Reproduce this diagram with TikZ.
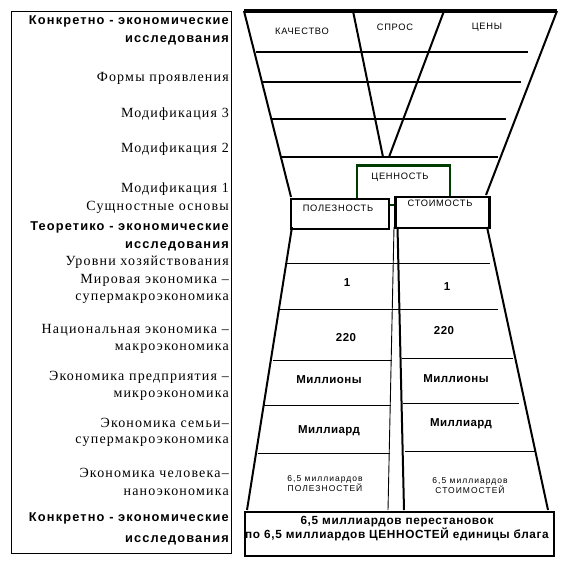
\documentclass[tikz,border=0pt]{standalone}
\usepackage{fontspec}
\setmainfont{Liberation Serif}
\newfontfamily\lserif[LetterSpace=8.5]{Liberation Serif}
\newfontfamily\lsans[LetterSpace=8]{Liberation Sans}
\newfontfamily\lsansbold[LetterSpace=9]{Liberation Sans}
\newfontfamily\lsanswide[LetterSpace=12]{Liberation Sans}
\newfontfamily\lsanstight[LetterSpace=4]{Liberation Sans}
\newfontfamily\lsansbot[LetterSpace=5.5]{Liberation Sans}
\definecolor{dkgreen}{RGB}{0,60,0}
\begin{document}
\begin{tikzpicture}[x=1pt,y=-1pt,
  lt/.style={anchor=base east, inner sep=0, font=\lserif\fontsize{14}{15}\selectfont},
  lb/.style={anchor=base east, inner sep=0, font=\lsansbold\bfseries\fontsize{12.8}{13}\selectfont},
  small/.style={inner sep=0, font=\lsans\fontsize{9.3}{10}\selectfont},
  tiny/.style={inner sep=0, align=center, font=\lsanswide\fontsize{8.5}{10}\selectfont},
  num/.style={inner sep=0, font=\lsanstight\bfseries\fontsize{11.5}{12}\selectfont},
  bigbox/.style={draw, line width=2.6pt, fill=white, inner sep=0, anchor=north west},
  edge/.style={line width=2pt},
  hline/.style={line width=1.7pt},
  thin/.style={line width=0.9pt}]
\useasboundingbox (0,0) rectangle (571,572);
\fill[white] (0,0) rectangle (571,572);

% left frame
\node[draw, line width=1pt, inner sep=0, minimum width=220pt, minimum height=542pt, anchor=north west] (frame) at (11,11) {};

% left labels
\node[lb] (k1a) at (229,25) {Конкретно - экономические};
\node[lb] (k1b) at (229,43) {исследования};
\node[lt] (fp) at (229,82) {Формы проявления};
\node[lt] (m3) at (229,118) {Модификация 3};
\node[lt] (m2) at (229,153) {Модификация 2};
\node[lt] (m1) at (229,192) {Модификация 1};
\node[lt] (so) at (229,210) {Сущностные основы};
\node[lb] (t1a) at (229,230) {Теоретико - экономические};
\node[lb] (t1b) at (229,248) {исследования};
\node[lt] (ur) at (229,265) {Уровни хозяйствования};
\node[lt] (mir1) at (229,283) {Мировая экономика –};
\node[lt] (mir2) at (229,300) {супермакроэкономика};
\node[lt] (nat1) at (229,333) {Национальная экономика –};
\node[lt] (nat2) at (229,350) {макроэкономика};
\node[lt] (pr1) at (229,380) {Экономика предприятия –};
\node[lt] (pr2) at (229,397) {микроэкономика};
\node[lt] (se1) at (229,427) {Экономика семьи–};
\node[lt] (se2) at (229,443) {супермакроэкономика};
\node[lt] (ch1) at (229,477) {Экономика человека–};
\node[lt] (ch2) at (229,495) {наноэкономика};
\node[lb] (k2a) at (229,521) {Конкретно - экономические};
\node[lb] (k2b) at (229,542) {исследования};

% upper trapezoid
\coordinate (utl) at (244,11);
\coordinate (utr) at (557,11);
\coordinate (ubl) at (291,197);
\coordinate (ubr) at (486,195);
\coordinate (ia1) at (353,11);
\coordinate (ia2) at (383,157);
\coordinate (ib1) at (444,11);
\coordinate (ib2) at (389,157);
\draw[line width=3.5pt] (utl) -- (utr);
\draw[edge] (utl) -- (ubl);
\draw[edge] (utr) -- (ubr);
\draw[edge] (ia1) -- (ia2);
\draw[edge] (ib1) -- (ib2);
\foreach \ya/\xa/\xb in {52/256/528, 82/263/521, 119/272/506, 157/280/498}
  \draw[hline] (\xa,\ya) -- (\xb,\ya);

\node[small] (kach) at (302,31) {КАЧЕСТВО};
\node[small] (spros) at (395,27) {СПРОС};
\node[small] (ceny) at (487,27) {ЦЕНЫ};

% value boxes
\node[draw=dkgreen, line width=2.2pt, inner sep=0, minimum width=93pt, minimum height=39pt, anchor=north west] (cen) at (355.5,164.5) {};
\node[small] (cent) at (400,177) {ЦЕННОСТЬ};
\node[bigbox, minimum width=98pt, minimum height=30pt] (pol) at (289.5,197.5) {};
\node[small] (polt) at (338,208) {ПОЛЕЗНОСТЬ};
\node[bigbox, minimum width=94pt, minimum height=31pt] (sto) at (394,195.5) {};
\node[small] (stot) at (440,203) {СТОИМОСТЬ};

% bottom box
\node[bigbox, minimum width=309pt, minimum height=44pt] (bot) at (243.5,510.5) {};
\node[inner sep=0, align=center, font=\lsansbot\bfseries\fontsize{11.8}{14}\selectfont] (bott) at (397,529) {6,5 миллиардов перестановок\\по 6,5 миллиардов ЦЕННОСТЕЙ единицы блага};

% lower trapezoid
\coordinate (ltl) at (292,227);
\coordinate (ltr) at (487,227);
\coordinate (lbl) at (247,510);
\coordinate (lbr) at (548,510);
\draw[edge] (ltl) -- (lbl);
\draw[edge] (ltr) -- (lbr);
\coordinate (ma1) at (394,227);
\coordinate (ma2) at (388,510);
\coordinate (mb1) at (397.5,227);
\coordinate (mb2) at (404,510);
\draw[thin] (ma1) -- (ma2);
\draw[edge] (mb1) -- (mb2);
\draw[thin] (287,263) -- (490,263);
\draw[thin] (280,309) -- (498,309);
\draw[thin] (273,360) -- (392,360);
\draw[thin] (402,358) -- (513,358);
\draw[thin] (264,405.5) -- (391,405.5);
\draw[thin] (403,403) -- (519,403);
\draw[thin] (258,453) -- (390,453);
\draw[thin] (405,451) -- (535,451);

\node[num] (n1a) at (347,283) {1};
\node[num] (n1b) at (447,287) {1};
\node[num] (n2a) at (346,338) {220};
\node[num] (n2b) at (444,331) {220};
\node[num] (n3a) at (329,380) {Миллионы};
\node[num] (n3b) at (456,379) {Миллионы};
\node[num] (n4a) at (329,431) {Миллиард};
\node[num] (n4b) at (461,424) {Миллиард};
\node[tiny] (n5a) at (325,484) {6,5 миллиардов\\ПОЛЕЗНОСТЕЙ};
\node[tiny] (n5b) at (470,486) {6,5 миллиардов\\СТОИМОСТЕЙ};
\end{tikzpicture}
\end{document}
